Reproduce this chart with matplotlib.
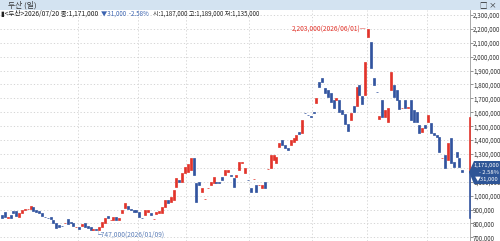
import matplotlib
matplotlib.use("Agg")
from matplotlib import pyplot as plt
from matplotlib.patches import Polygon

plt.rcParams['font.family'] = ['Noto Sans CJK KR', 'DejaVu Sans']

# daily candles, prices in thousands of won
opens = [861, 883, 840, 861, 890, 890, 847, 876, 897, 902, 904, 919, 895, 890, 876, 850, 843, 847, 825, 804,
         789, 784, 800, 832, 811, 804, 772, 775, 780, 804, 782, 775, 753, 762, 753, 775, 804, 854, 822, 825,
         847, 825, 876, 912, 926, 905, 900, 897, 883, 843, 861, 883, 876, 830, 868, 876, 876, 919, 969, 955,
         969, 1062, 1113, 1098, 1163, 1170, 1185, 1271, 1091, 1098, 1027, 974, 1052, 1077, 1091, 1098, 1098, 1134, 1149, 1170,
         1152, 1127, 1134, 1185, 1238, 1163, 1116, 1055, 1118, 1077, 1075, 1055, 1098, 1190, 1199, 1257, 1235, 1350, 1401, 1365,
         1343, 1365, 1386, 1401, 1459, 1451, 1598, 1584, 1570, 1600, 1667, 1818, 1846, 1775, 1760, 1739, 1689, 1689, 1689, 1617,
         1588, 1516, 1545, 1646, 1646, 1796, 1717, 1724, 2142, 2106, 1847, 1748, 1552, 1689, 1566, 1530, 1760, 1796, 1760, 1689,
         1628, 1689, 1630, 1689, 1617, 1602, 1509, 1458, 1509, 1530, 1523, 1451, 1437, 1422, 1268, 1293, 1257, 1415, 1242, 1314,
         1271, 1187]
closes = [840, 847, 847, 840, 876, 854, 876, 897, 900, 906, 926, 890, 886, 876, 854, 847, 840, 832, 800, 768,
          775, 780, 804, 796, 804, 782, 777, 760, 796, 775, 768, 753, 757, 750, 775, 811, 840, 840, 826, 847,
          825, 840, 897, 947, 905, 897, 886, 883, 847, 838, 897, 897, 861, 834, 883, 890, 919, 969, 947, 990,
          1041, 1127, 1098, 1163, 1206, 1230, 1271, 1149, 955, 1077, 1055, 978, 1056, 1098, 1134, 1091, 1088, 1113, 1185, 1185,
          1145, 1062, 1149, 1242, 1245, 1199, 1110, 1027, 1122, 1027, 1080, 1077, 1055, 1194, 1293, 1293, 1278, 1379, 1365, 1343,
          1329, 1401, 1415, 1437, 1444, 1545, 1592, 1578, 1566, 1594, 1703, 1782, 1818, 1739, 1710, 1674, 1631, 1703, 1602, 1588,
          1516, 1466, 1595, 1602, 1782, 1724, 1660, 1962, 2200, 1919, 1796, 1744, 1573, 1566, 1617, 1631, 1890, 1710, 1689, 1624,
          1632, 1631, 1634, 1545, 1530, 1530, 1451, 1487, 1487, 1581, 1451, 1437, 1422, 1314, 1272, 1199, 1379, 1235, 1206, 1278,
          1206, 1171]
month_starts = [27, 48, 65, 87, 109, 128, 149]
y_ticks = list(range(700, 2301, 100))
hidden_ticks = [1200]   # sits fully under the current price box

peak_value, peak_date = 2203, '2026/06/01'
low_value, low_date = 747, '2026/01/09'
peak_idx = 128
low_idx = 33
range_top, range_bottom = 1560, 840

RED = '#e2342b'
BLUE = '#32549f'

H = 241.0


def fy(px):
    # pixel row from the top -> figure fraction
    return (H - px) / H


fig = plt.figure(figsize=(5, 2.41), dpi=100)
fig.patch.set_facecolor('white')

ax = fig.add_axes([0, 0, 0.94, 231 / H])
ax.set_facecolor('white')

n = len(opens)
for i in range(n):
    o, c = opens[i], closes[i]
    col = RED if c >= o else BLUE
    h = c - o
    if abs(h) < 5:
        h = 5 if h >= 0 else -5
    ax.bar(i, h, bottom=o, width=0.7, color=col, edgecolor=col, linewidth=0.5)

xmax = n - 1 + 2.7
ax.set_xlim(-0.7, xmax)
ax.set_ylim(674, 2336)

for y in y_ticks:
    ax.axhline(y, color='#cfcfcf', lw=0.6, ls=(0, (1.5, 2.5)), zorder=0)
for m in month_starts:
    ax.axvline(m - 0.5, color='#cfcfcf', lw=0.6, ls=(0, (1.5, 2.5)), zorder=0)

ax.yaxis.tick_right()
ax.set_yticks(y_ticks)
ax.set_yticklabels(['' if v in hidden_ticks else f'{v * 1000:,}' for v in y_ticks],
                   fontsize=4.5, color='#333333')
ax.tick_params(axis='y', length=2, width=0.5, color='#666666', pad=0.3)
ax.set_xticks([])
for s in ['top', 'left', 'bottom']:
    ax.spines[s].set_visible(False)
ax.spines['right'].set_color('#9a9a9a')
ax.spines['right'].set_linewidth(0.6)

# range bar on the price axis
ax.plot([xmax, xmax], [range_top, closes[-1]], color=RED, lw=1.2, clip_on=False, zorder=5)
ax.plot([xmax, xmax], [closes[-1], range_bottom], color=BLUE, lw=1.2, clip_on=False, zorder=5)

# high / low annotations
ax.annotate(f'{peak_value * 1000:,}({peak_date})\u2014', xy=(peak_idx - 0.6, peak_value),
            ha='right', va='center', fontsize=4.8, color=RED)
ax.annotate(f'\u2514{low_value * 1000:,}({low_date})', xy=(low_idx - 0.6, low_value - 25),
            ha='left', va='center', fontsize=4.8, color='#5d7fb8')

# current price box, pointing at the last close
fig.patches.append(Polygon([[469 / 500, fy(172)], [474 / 500, fy(161)], [1, fy(161)],
                            [1, fy(184)], [474 / 500, fy(184)]],
                           closed=True, transform=fig.transFigure, facecolor='#2e5596',
                           edgecolor='none', zorder=10))
fig.text(499 / 500, fy(165.5), f'{closes[-1] * 1000:,}', ha='right', va='center', fontsize=4.2,
         color='white', zorder=11)
fig.text(499 / 500, fy(172.5), '- 2.58%', ha='right', va='center', fontsize=4.2, color='white', zorder=11)
fig.text(499 / 500, fy(179.5), '\u25bc31,000', ha='right', va='center', fontsize=4.2, color='white', zorder=11)

# header bar
fig.patches.append(plt.Rectangle((0, fy(10)), 1, 10 / H, transform=fig.transFigure,
                                 facecolor='#d3e3f1', edgecolor='none'))
fig.text(8 / 500, fy(5), '두산 (일)', ha='left', va='center', fontsize=5.6, color='#333333')
fig.text(497 / 500, fy(5), '□ ×', ha='right', va='center', fontsize=5.4, color='#222222')

# info line
info_y = fy(13.5)
fig.text(1 / 500, info_y, '▮<두산>2026/07/20 종:1,171,000', ha='left', va='center', fontsize=4.8, color='#222222')
fig.text(101 / 500, info_y, '▼31,000  -2.58%', ha='left', va='center', fontsize=4.5, color='#3b63b0')
fig.text(153 / 500, info_y, '시:1,187,000 고:1,189,000 저:1,135,000', ha='left', va='center', fontsize=4.4,
         color='#222222')

fig.savefig('out.png', dpi=100)
